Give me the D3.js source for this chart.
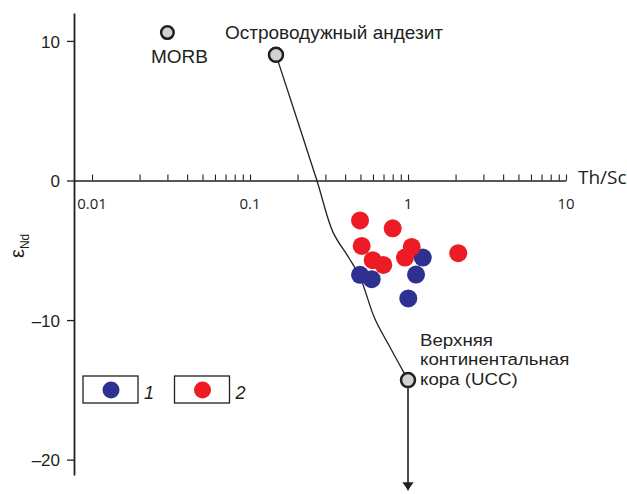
<!DOCTYPE html>
<html><head><meta charset="utf-8">
<script src="https://cdn.jsdelivr.net/npm/d3@7/dist/d3.min.js"></script>
<style>
html,body{margin:0;padding:0;background:#fff;}
svg{display:block;}
</style></head>
<body>
<svg id="c" width="627" height="494"></svg>
<script>
// ---- data ----
const series1 = [ // blue (1)
  {x:1.24, y:-5.52},
  {x:0.497, y:-6.76},
  {x:0.589, y:-7.07},
  {x:1.124, y:-6.74},
  {x:1.004, y:-8.45}
];
const series2 = [ // red (2)
  {x:0.497, y:-2.86},
  {x:0.800, y:-3.43},
  {x:0.509, y:-4.69},
  {x:1.055, y:-4.76},
  {x:0.598, y:-5.71},
  {x:0.698, y:-6.05},
  {x:0.957, y:-5.52},
  {x:2.08, y:-5.21}
];
const endMembers = [
  {name:"MORB", x:0.030, y:10.6},
  {name:"Островодужный андезит", x:0.146, y:9.0},
  {name:"UCC", x:1.0, y:-14.3}
];
const mixingCurve = [
  {x:0.146, y:9.0},
  {x:0.265, y:0.0},
  {x:0.335, y:-3.7},
  {x:0.42, y:-5.5},
  {x:0.497, y:-6.93},
  {x:0.618, y:-9.93},
  {x:0.780, y:-12.07},
  {x:1.0, y:-14.3}
];
const arrowEnd = {x:1.0, y:-22.2};
const xTickMajor = [0.01, 0.1, 1, 10];
const xTickLabels = ["0.01", "0.1", "1", "10"];
const xTickMinor = [0.02,0.03,0.04,0.05,0.06,0.07,0.08,0.09,0.2,0.3,0.4,0.5,0.6,0.7,0.8,0.9,2,3,4,5,6,7,8,9];
const yTicks = [-20, -10, 0, 10];
const yTickLabels = ["\u201320", "\u201310", "0", "10"];
const legendItems = ["1", "2"];
const uccLines = ["Верхняя", "континентальная", "кора (UCC)"];
const colors = {s1:"#2e3192", s2:"#ed1c24", em:"#d1d2d4", ink:"#231f20"};

// ---- scales ----
const svg = d3.select("#c");
const x = d3.scaleLog().domain([0.00769, 10]).range([74, 566]);
const y = d3.scaleLinear().domain([-21.1, 12]).range([475, 13]);

// ---- axes ----
const xAxis = d3.axisBottom(x)
  .tickValues(xTickMajor.concat(xTickMinor))
  .tickSizeInner(-6).tickSizeOuter(0).tickFormat("");
const gx = svg.append("g").attr("transform", `translate(0,${y(0)})`).call(xAxis);
gx.select(".domain").attr("stroke", colors.ink).attr("stroke-width", 1.6);
gx.selectAll(".tick line").attr("stroke", colors.ink).attr("stroke-width", 1.1);

svg.append("g").selectAll("text").data(xTickMajor).join("text")
  .attr("x", d => x(d)).attr("y", y(0) + 29)
  .attr("text-anchor", "middle")
  .attr("font-family", "Open Sans, sans-serif").attr("font-size", 15)
  .attr("fill", colors.ink)
  .text((d,i) => xTickLabels[i]);

svg.append("text").attr("x", 578).attr("y", y(0) + 4)
  .attr("font-family", "Open Sans, sans-serif").attr("font-size", 19)
  .attr("fill", colors.ink).text("Th/Sc");

const yAxis = d3.axisLeft(y).tickValues(yTicks).tickSizeInner(7).tickSizeOuter(0)
  .tickPadding(7).tickFormat((d,i) => yTickLabels[i]);
const gy = svg.append("g").attr("transform", `translate(${x.range()[0]},0)`).call(yAxis);
gy.select(".domain").attr("stroke", colors.ink).attr("stroke-width", 1.8);
gy.selectAll(".tick line").attr("stroke", colors.ink).attr("stroke-width", 1.3);
gy.selectAll(".tick text").attr("font-family", "Liberation Sans, Arial, sans-serif")
  .attr("font-size", 17).attr("fill", colors.ink).attr("dy", "0.36em");

// y label (rotated) epsilon Nd
const yl = svg.append("text").attr("transform", "translate(24,258) rotate(-90)")
  .attr("font-family", "Liberation Sans, Arial, sans-serif").attr("fill", colors.ink);
yl.append("tspan").attr("font-size", 20).text("ε");
yl.append("tspan").attr("font-size", 12).attr("dy", 5).text("Nd");

// ---- mixing curve ----
const line = d3.line().x(d => x(d.x)).y(d => y(d.y)).curve(d3.curveCatmullRom.alpha(0.5));
svg.append("path").datum(mixingCurve).attr("d", line)
  .attr("fill", "none").attr("stroke", colors.ink).attr("stroke-width", 1.3);

// arrow
svg.append("defs").append("marker").attr("id", "ah")
  .attr("viewBox", "0 0 10 20").attr("refX", 10).attr("refY", 10)
  .attr("markerWidth", 8).attr("markerHeight", 16).attr("markerUnits", "userSpaceOnUse")
  .attr("orient", "auto")
  .append("path").attr("d", "M0,3 L10,10 L0,17 Z").attr("fill", colors.ink);
svg.append("line")
  .attr("x1", x(endMembers[2].x)).attr("y1", y(endMembers[2].y))
  .attr("x2", x(arrowEnd.x)).attr("y2", y(arrowEnd.y))
  .attr("stroke", colors.ink).attr("stroke-width", 1.6).attr("marker-end", "url(#ah)");

// ---- samples ----
svg.append("g").selectAll("circle").data(series1).join("circle")
  .attr("cx", d => x(d.x)).attr("cy", d => y(d.y)).attr("r", 9).attr("fill", colors.s1);
svg.append("g").selectAll("circle").data(series2).join("circle")
  .attr("cx", d => x(d.x)).attr("cy", d => y(d.y)).attr("r", 9).attr("fill", colors.s2);

// ---- end members ----
const emR = [6.3, 7, 7];
svg.append("g").selectAll("circle").data(endMembers).join("circle")
  .attr("cx", d => x(d.x)).attr("cy", d => y(d.y)).attr("r", (d,i) => emR[i])
  .attr("fill", colors.em).attr("stroke", colors.ink).attr("stroke-width", 2.5);

const lab = (t, px, py, fs) => svg.append("text").attr("x", px).attr("y", py)
  .attr("font-family", "Liberation Sans, Arial, sans-serif").attr("font-size", fs)
  .attr("fill", colors.ink).text(t);
lab("MORB", x(endMembers[0].x) - 16.5, y(endMembers[0].y) + 30, 19);
lab("Островодужный андезит", x(endMembers[1].x) - 51, y(endMembers[1].y) - 16, 19);

svg.append("g").selectAll("text").data(uccLines).join("text")
  .attr("transform", (d, i) => `translate(${x(endMembers[2].x) + 12},${y(endMembers[2].y) - 34.5 + i * 19.6}) scale(1.1,1)`)
  .attr("font-family", "Liberation Sans, Arial, sans-serif").attr("font-size", 17)
  .attr("fill", colors.ink).text(d => d);

// ---- legend ----
const lg = svg.append("g").selectAll("g").data(legendItems).join("g")
  .attr("transform", (d,i) => `translate(${83 + i * 91.5},376)`);
lg.append("rect").attr("width", 55).attr("height", 27)
  .attr("fill", "#fff").attr("stroke", colors.ink).attr("stroke-width", 1.3);
lg.append("circle").attr("cx", 28).attr("cy", 14).attr("r", 8.5)
  .attr("fill", (d,i) => i === 0 ? colors.s1 : colors.s2);
lg.append("text").attr("x", 61).attr("y", 23)
  .attr("font-family", "Liberation Sans, Arial, sans-serif").attr("font-size", 18)
  .attr("font-style", "italic").attr("fill", colors.ink).text(d => d);
</script>
</body></html>
